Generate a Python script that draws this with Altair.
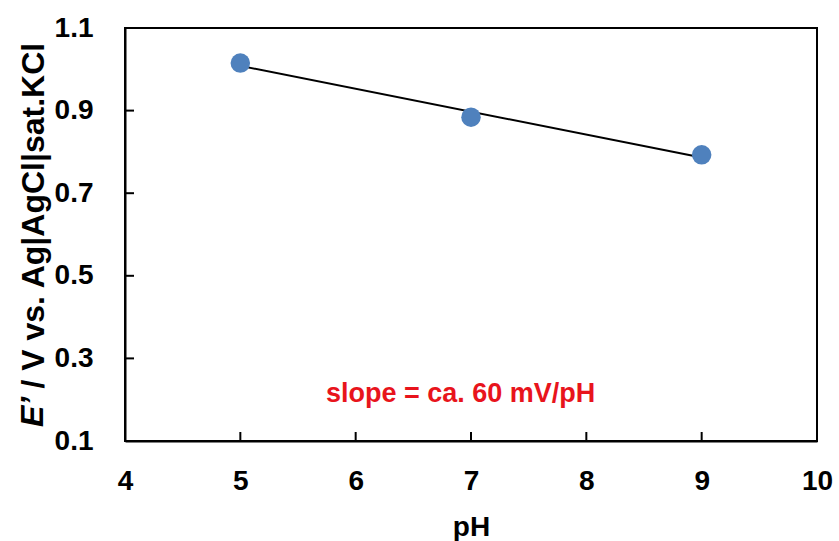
import altair as alt
import pandas as pd

ph = [5, 7, 9]
potential = [1.015, 0.884, 0.793]

x_ticks = [4, 5, 6, 7, 8, 9, 10]
y_ticks = [0.1, 0.3, 0.5, 0.7, 0.9, 1.1]

note_text = ["slope = ca. 60 mV/pH"]
note_x = [6.91]
note_y = [0.214]

y_title_italic = ["E’"]
y_title_rest = "/ V vs. Ag|AgCl|sat.KCl"

FONT = "Liberation Sans"
W, H = 692, 413
TFS = 32

df = pd.DataFrame({"pH": ph, "E": potential})
notes = pd.DataFrame({"x": note_x, "y": note_y, "t": note_text})
xt = pd.DataFrame({"v": x_ticks[1:-1]})
yt = pd.DataFrame({"v": y_ticks[1:-1]})
it = pd.DataFrame({"t": y_title_italic})

xscale = alt.Scale(domain=[4, 10], nice=False, zero=False)
yscale = alt.Scale(domain=[0.1, 1.1], nice=False, zero=False)

xaxis = alt.Axis(
    values=x_ticks, format="d", title="pH", grid=False, ticks=False,
    domainColor="black", domainWidth=2,
    labelFont=FONT, labelFontWeight="bold", labelFontSize=28, labelColor="black",
    labelPadding=26, labelBaseline="top", labelFlush=False,
    titleFont=FONT, titleFontWeight="bold", titleFontSize=28, titleColor="black",
    titleX=W / 2, titleY=94, titleBaseline="alphabetic", titleAlign="center",
)
yaxis = alt.Axis(
    values=y_ticks, format=".1f", title=y_title_rest, grid=False, ticks=False,
    domainColor="black", domainWidth=2,
    labelFont=FONT, labelFontWeight="bold", labelFontSize=28, labelColor="black",
    labelPadding=32, labelFlush=False,
    titleFont=FONT, titleFontWeight="bold", titleFontSize=TFS, titleColor="black",
    titleX=-92, titleY=360, titleAngle=270, titleAlign="left", titleBaseline="middle",
)

points = alt.Chart(df).mark_circle(size=380, opacity=1, color="#4F81BD").encode(
    x=alt.X("pH:Q", scale=xscale, axis=xaxis),
    y=alt.Y("E:Q", scale=yscale, axis=yaxis),
)

fit = alt.Chart(df).transform_regression("pH", "E").mark_line(color="black", strokeWidth=2).encode(
    x=alt.X("pH:Q", scale=xscale),
    y=alt.Y("E:Q", scale=yscale),
)

xticks = alt.Chart(xt).mark_rule(color="black", strokeWidth=2).encode(
    x=alt.X("v:Q", scale=xscale),
    y=alt.value(H),
    y2=alt.value(H - 9),
)
yticks = alt.Chart(yt).mark_rule(color="black", strokeWidth=2).encode(
    y=alt.Y("v:Q", scale=yscale),
    x=alt.value(0),
    x2=alt.value(9),
)

note = alt.Chart(notes).mark_text(
    font=FONT, fontWeight="bold", fontSize=27, color="#E8141C", align="center", baseline="middle"
).encode(
    x=alt.X("x:Q", scale=xscale),
    y=alt.Y("y:Q", scale=yscale),
    text="t:N",
)

ital = alt.Chart(it).mark_text(
    font=FONT, fontWeight="bold", fontStyle="italic", fontSize=TFS, color="black",
    align="left", baseline="middle", angle=270,
).encode(
    x=alt.value(-92),
    y=alt.value(399),
    text="t:N",
)

chart = alt.layer(xticks, yticks, fit, points, note, ital).properties(
    width=W, height=H,
    autosize=alt.AutoSizeParams(type="none"),
    padding={"left": 125, "top": 28, "right": 22, "bottom": 100},
    background="white",
).configure_view(stroke="black", strokeWidth=2)

chart.save("out.html", embed_options={"renderer": "svg", "actions": False})
